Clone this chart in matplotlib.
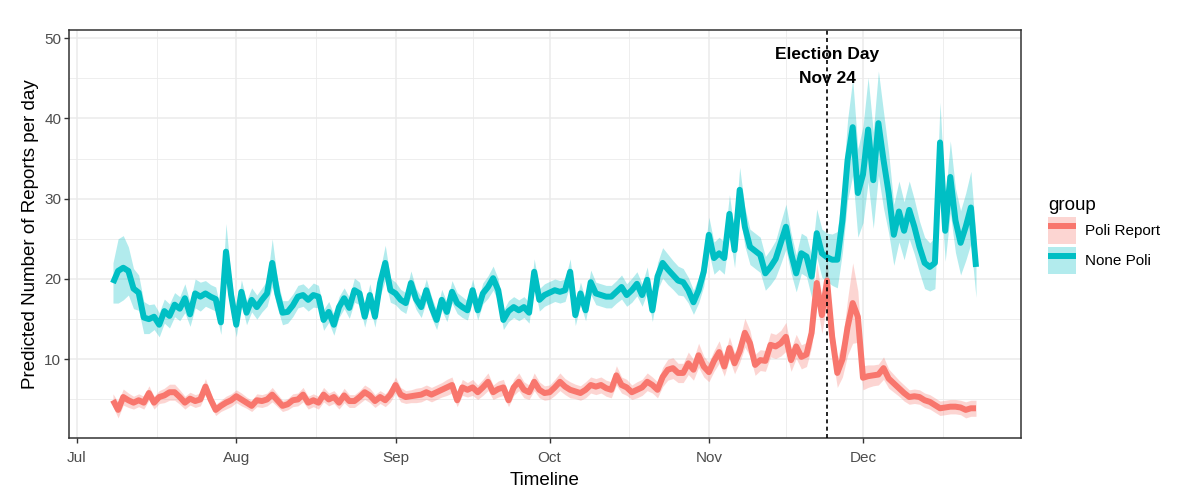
import matplotlib
matplotlib.use('Agg')
import matplotlib.pyplot as plt
import matplotlib.dates as mdates
from matplotlib.ticker import MultipleLocator, FixedLocator
from matplotlib.patches import Patch
from matplotlib.lines import Line2D
from matplotlib.legend_handler import HandlerTuple
import numpy as np
import pandas as pd

plt.rcParams['font.family'] = ['Liberation Sans', 'DejaVu Sans']

# ---------------- data (daily, 2018-07-08 .. 2018-12-23) ----------------
start_date = '2018-07-08'
end_date = '2018-12-23'
election_date = '2018-11-24'

# "None Poli" predicted values
none_jul = [19.5, 21.0, 21.4, 21.0, 18.8, 18.3, 15.2, 15.0, 15.3, 14.3, 16.0, 15.4, 16.8, 16.3, 17.6, 15.6,
            18.2, 17.8, 18.2, 17.8, 17.5, 14.6, 23.4, 18.0]
none_aug = [14.3, 18.4, 15.8, 17.4, 16.5, 17.4, 18.2, 22.0, 18.2, 15.8, 15.9, 16.7, 17.8, 18.0, 17.4, 18.0,
            17.8, 14.9, 15.9, 14.3, 16.5, 17.6, 16.4, 18.6, 18.2, 15.3, 18.0, 15.3, 19.5, 22.0, 18.6]
none_sep = [18.2, 17.4, 17.0, 19.5, 17.5, 16.5, 18.6, 16.5, 14.9, 17.4, 15.9, 18.4, 17.0, 16.5, 16.1, 18.6,
            16.1, 18.2, 19.0, 20.1, 18.6, 14.9, 16.0, 16.5, 16.1, 16.5, 15.8, 20.9, 17.4, 18.0]
none_oct = [18.3, 18.6, 18.4, 18.6, 20.9, 15.5, 18.2, 16.1, 19.6, 18.2, 18.0, 17.8, 17.8, 18.4, 19.0, 18.0,
            18.6, 19.4, 18.0, 19.9, 16.1, 20.3, 22.0, 21.2, 20.5, 19.8, 19.6, 18.6, 17.1, 18.6, 20.9]
none_nov = [25.5, 22.6, 23.2, 22.6, 28.1, 23.6, 31.1, 26.5, 24.0, 23.5, 23.0, 20.7, 21.5, 22.5, 24.5, 26.5,
            23.2, 20.7, 23.2, 22.8, 20.3, 25.7, 23.2, 22.7, 22.4, 22.4, 27.3, 34.8, 38.9, 30.7]
none_dec = [33.0, 38.6, 32.3, 39.4, 34.8, 30.7, 25.5, 28.4, 26.0, 28.6, 26.5, 24.0, 22.0, 21.5, 22.0, 37.0,
            26.0, 32.7, 27.3, 24.5, 26.5, 28.9, 21.5]

# "None Poli" confidence half-widths
none_hw_jul = [2.5, 4.0, 4.0, 3.0, 2.5, 2.2, 2.0, 1.8, 1.6, 1.5, 1.5, 1.5, 1.5, 1.5, 1.8, 1.5, 1.8, 1.8,
               1.6, 1.5, 1.5, 1.5, 3.5, 2.0]
none_hw_aug = [1.5, 1.5, 1.5, 1.5, 1.5, 1.5, 1.6, 3.0, 1.8, 1.5, 1.4, 1.4, 1.4, 1.4, 1.4, 1.5, 1.4, 1.3,
               1.3, 1.3, 1.3, 1.3, 1.3, 1.5, 1.4, 1.3, 1.4, 1.3, 1.6, 2.2, 1.5]
none_hw_sep = [1.4, 1.3, 1.3, 1.5, 1.3, 1.3, 1.4, 1.3, 1.2, 1.3, 1.2, 1.4, 1.3, 1.3, 1.2, 1.4, 1.2, 1.3,
               1.4, 1.5, 1.4, 1.2, 1.3, 1.3, 1.3, 1.3, 1.3, 1.6, 1.4, 1.4]
none_hw_oct = [1.4, 1.4, 1.4, 1.4, 1.6, 1.3, 1.4, 1.3, 1.5, 1.4, 1.4, 1.4, 1.4, 1.4, 1.5, 1.4, 1.5, 1.5,
               1.4, 1.6, 1.4, 1.7, 1.9, 1.9, 1.8, 1.8, 1.7, 1.6, 1.5, 1.6, 1.8]
none_hw_nov = [2.2, 2.0, 2.0, 2.0, 2.4, 2.2, 2.8, 2.4, 2.2, 2.2, 2.2, 2.1, 2.2, 2.3, 2.6, 2.8, 2.5, 2.3,
               2.5, 2.5, 2.6, 3.0, 3.0, 3.0, 3.2, 3.5, 4.0, 5.0, 6.0, 5.5]
none_hw_dec = [6.0, 6.5, 6.0, 6.5, 6.0, 5.0, 3.8, 3.8, 3.6, 3.6, 3.4, 3.2, 3.2, 3.0, 3.2, 5.0, 3.8, 4.5,
               4.0, 4.0, 4.2, 4.5, 3.8]

# "Poli Report" predicted values
poli_jul = [4.9, 3.7, 5.3, 4.9, 4.6, 4.9, 4.6, 5.8, 4.6, 5.3, 5.5, 5.9, 5.9, 5.3, 4.6, 5.1, 4.8, 5.0,
            6.6, 5.0, 3.7, 4.2, 4.6, 4.9]
poli_aug = [5.4, 5.0, 4.6, 4.2, 4.9, 4.8, 5.0, 5.6, 4.9, 4.2, 4.4, 4.9, 5.0, 5.6, 4.6, 4.9, 4.6, 5.6,
            5.0, 5.3, 4.6, 5.5, 4.8, 4.8, 5.3, 5.9, 5.5, 4.8, 5.3, 4.9, 5.6]
poli_sep = [6.8, 5.6, 5.3, 5.4, 5.5, 5.6, 5.9, 5.6, 5.9, 6.2, 6.5, 6.8, 4.9, 6.5, 6.2, 6.5, 5.9, 6.5,
            7.2, 5.9, 6.3, 6.5, 4.9, 6.5, 7.2, 6.2, 5.9, 7.2, 6.2, 5.8]
poli_oct = [5.9, 6.5, 7.2, 6.6, 6.2, 6.0, 5.8, 6.2, 6.8, 6.6, 6.8, 6.4, 6.2, 8.0, 6.8, 6.5, 5.9, 6.2,
            6.5, 7.2, 6.8, 6.2, 7.8, 8.7, 8.9, 8.3, 8.3, 9.5, 8.7, 10.5, 9.1]
poli_nov = [8.4, 9.8, 10.9, 9.1, 11.4, 9.5, 11.0, 13.3, 12.0, 9.3, 9.9, 9.8, 11.8, 11.6, 12.0, 12.8,
            9.9, 11.6, 10.3, 10.6, 13.3, 19.5, 15.5, 19.8, 12.8, 8.3, 10.0, 14.0, 17.0, 15.3]
poli_dec = [7.7, 7.9, 8.0, 8.1, 8.9, 7.6, 7.0, 6.4, 5.8, 5.3, 5.4, 5.3, 4.9, 4.7, 4.3, 3.9, 4.0, 4.1,
            4.1, 4.0, 3.7, 3.9, 3.9]

# "Poli Report" confidence half-widths
poli_hw_jul = [0.8, 1.0, 1.0, 0.9, 0.8, 0.8, 0.8, 0.9, 0.8, 0.8, 0.9, 1.0, 1.0, 0.9, 0.8, 0.8, 0.8, 0.8,
               1.0, 0.8, 0.7, 0.7, 0.8, 0.8]
poli_hw_aug = [0.8, 0.8, 0.7, 0.7, 0.8, 0.8, 0.8, 0.9, 0.8, 0.7, 0.7, 0.8, 0.8, 0.9, 0.8, 0.8, 0.8, 0.9,
               0.8, 0.8, 0.8, 0.9, 0.8, 0.8, 0.8, 0.9, 0.9, 0.8, 0.8, 0.8, 0.9]
poli_hw_sep = [1.0, 0.9, 0.8, 0.8, 0.9, 0.9, 0.9, 0.9, 0.9, 0.9, 1.0, 1.0, 0.8, 1.0, 0.9, 1.0, 0.9, 1.0,
               1.1, 0.9, 1.0, 1.0, 0.8, 1.0, 1.1, 1.0, 0.9, 1.1, 1.0, 0.9]
poli_hw_oct = [0.9, 1.0, 1.1, 1.0, 1.0, 0.9, 0.9, 1.0, 1.0, 1.0, 1.0, 1.0, 1.0, 1.2, 1.0, 1.0, 0.9, 1.0,
               1.0, 1.1, 1.0, 1.0, 1.2, 1.3, 1.3, 1.2, 1.2, 1.4, 1.3, 1.5, 1.3]
poli_hw_nov = [1.2, 1.3, 1.4, 1.2, 1.4, 1.3, 1.4, 1.8, 1.6, 1.3, 1.3, 1.3, 1.5, 1.5, 1.6, 1.8, 1.4, 1.5,
               1.5, 1.5, 1.8, 2.5, 2.3, 2.8, 2.2, 1.8, 2.2, 3.5, 5.0, 3.2]
poli_hw_dec = [1.5, 1.4, 1.3, 1.3, 1.4, 1.2, 1.1, 1.0, 1.0, 0.9, 0.9, 0.9, 0.9, 0.9, 0.9, 0.9, 0.9, 0.9,
               0.9, 0.9, 1.0, 1.0, 1.0]

group_labels = ['Poli Report', 'None Poli']
month_labels_fmt = '%b'

# ---------------- assemble ----------------
dates = pd.date_range(start_date, end_date, freq='D')
poli = np.array(poli_jul + poli_aug + poli_sep + poli_oct + poli_nov + poli_dec)
poli_hw = np.array(poli_hw_jul + poli_hw_aug + poli_hw_sep + poli_hw_oct + poli_hw_nov + poli_hw_dec)
none = np.array(none_jul + none_aug + none_sep + none_oct + none_nov + none_dec)
none_hw = np.array(none_hw_jul + none_hw_aug + none_hw_sep + none_hw_oct + none_hw_nov + none_hw_dec)

RED = '#F8766D'
TEAL = '#00BFC4'
LW = 4.3
W, H = 1186, 503

fig = plt.figure(figsize=(W / 100, H / 100), dpi=100)
fig.patch.set_facecolor('white')
ax = fig.add_axes([69 / W, 1 - 438 / H, (1021 - 69) / W, (438 - 30) / H])

# ribbons
ax.fill_between(dates, poli - poli_hw, poli + poli_hw, color=RED, alpha=0.3, lw=0, zorder=2)
ax.fill_between(dates, none - none_hw, none + none_hw, color=TEAL, alpha=0.3, lw=0, zorder=2)
# lines
ax.plot(dates, poli, color=RED, lw=LW, solid_joinstyle='round', solid_capstyle='butt', zorder=3)
ax.plot(dates, none, color=TEAL, lw=LW, solid_joinstyle='round', solid_capstyle='butt', zorder=3)

# election marker
ed = pd.Timestamp(election_date)
ax.axvline(ed, color='black', ls=(0, (2.4, 2.0)), lw=1.2, zorder=4)
ax.text(ed, 48.0, 'Election Day', ha='center', va='center', fontsize=12.5,
        fontweight='bold', color='black', zorder=5)
ax.text(ed, 44.9, 'Nov 24', ha='center', va='center', fontsize=12.5,
        fontweight='bold', color='black', zorder=5)

# limits
x0 = mdates.date2num(pd.Timestamp('2018-06-29')) + 0.44
x1 = mdates.date2num(pd.Timestamp('2018-12-31')) + 0.76
ax.set_xlim(x0, x1)
ax.set_ylim(0.2, 51.0)

# ticks
ax.xaxis.set_major_locator(mdates.MonthLocator())
ax.xaxis.set_major_formatter(mdates.DateFormatter(month_labels_fmt))
majors = [mdates.date2num(pd.Timestamp(f'2018-{m:02d}-01')) for m in range(7, 13)] + \
         [mdates.date2num(pd.Timestamp('2019-01-01'))]
minors = [(a + b) / 2 for a, b in zip(majors[:-1], majors[1:])]
ax.xaxis.set_minor_locator(FixedLocator(minors))
ax.yaxis.set_major_locator(MultipleLocator(10))
ax.yaxis.set_minor_locator(MultipleLocator(5))

ax.grid(which='major', color='#EBEBEB', lw=1.1, zorder=0)
ax.grid(which='minor', color='#EBEBEB', lw=0.6, zorder=0)
ax.set_axisbelow(True)

ax.tick_params(which='major', length=3.5, width=1.0, color='#333333',
               labelcolor='#4D4D4D', labelsize=11)
ax.tick_params(axis='x', pad=6)
ax.tick_params(axis='y', pad=2)
ax.tick_params(which='minor', length=0)

for s in ax.spines.values():
    s.set_color('#333333')
    s.set_linewidth(1.1)

ax.set_xlabel('Timeline', fontsize=13.5, labelpad=5, color='black')
ax.set_ylabel('Predicted Number of Reports per day', fontsize=13.5, labelpad=4, color='black')

# legend
handles = [
    (Patch(facecolor=RED, alpha=0.3, edgecolor='none'),
     Line2D([], [], color=RED, lw=LW, solid_capstyle='butt')),
    (Patch(facecolor=TEAL, alpha=0.3, edgecolor='none'),
     Line2D([], [], color=TEAL, lw=LW, solid_capstyle='butt')),
]
fig.legend(handles, group_labels, handler_map={tuple: HandlerTuple(ndivide=1)},
           loc='upper left', bbox_to_anchor=(1048 / W, 1 - 197 / H), frameon=False,
           fontsize=11, title='group', title_fontsize=13.5, alignment='left',
           handlelength=1.8, handleheight=2.35, handletextpad=0.6, labelspacing=0.2,
           borderpad=0, borderaxespad=0)

fig.savefig('out.png', dpi=100)
